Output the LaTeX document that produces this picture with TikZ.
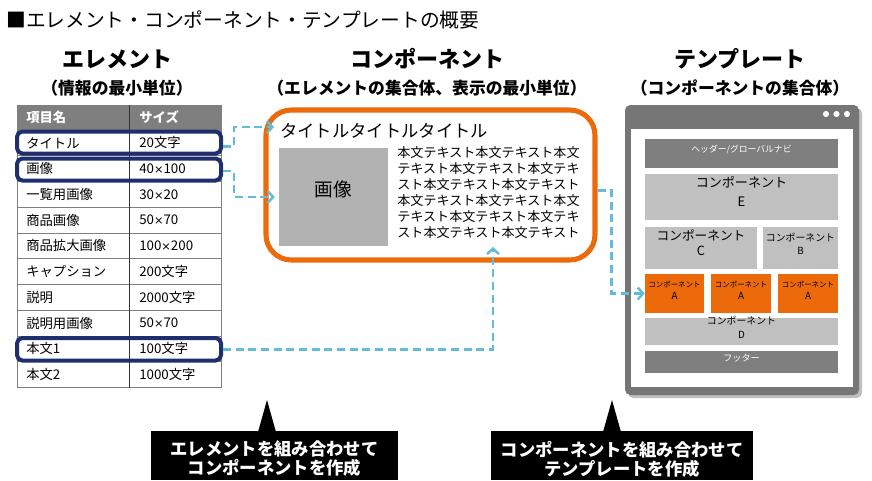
\documentclass[tikz,border=0pt]{standalone}
\usepackage{fontspec}
\setmainfont{Noto Sans CJK JP}
\newfontfamily\symfont{DejaVu Sans}
\newcommand\tms{{\symfont\fontsize{8.5}{10}\selectfont ×}}
\usetikzlibrary{arrows.meta,positioning,fit}

\definecolor{hlnavy}{HTML}{1F2F6E}
\definecolor{orng}{HTML}{EC6A0A}
\definecolor{flowblue}{HTML}{62BCDA}
\definecolor{wingray}{HTML}{767676}
\definecolor{hdgray}{HTML}{7F7F7F}
\definecolor{imggray}{HTML}{B2B2B2}
\definecolor{blkgray}{HTML}{C0C0C0}

\tikzset{
  head/.style={font=\bfseries\fontsize{16.5}{18}\selectfont},
  subhead/.style={font=\bfseries\fontsize{12.6}{14}\selectfont},
  cell/.style={anchor=west, inner sep=0pt, font=\fontsize{10}{12}\selectfont},
  cellhd/.style={cell, text=white, font=\bfseries\fontsize{10}{12}\selectfont},
  tline/.style={draw=hdgray, line width=0.6pt},
  hlbox/.style={draw=hlnavy, line width=3pt, rounded corners=4pt, inner sep=0pt},
  compbox/.style={draw=orng, line width=3.8pt, rounded corners=19pt, inner sep=0pt},
  imgbox/.style={fill=imggray, inner sep=0pt, font=\fontsize{14}{16}\selectfont},
  blk/.style={fill=blkgray, inner sep=0pt, align=center},
  blkdark/.style={fill=hdgray, inner sep=0pt, text=white},
  blkorng/.style={fill=orng, inner sep=0pt, align=center, font=\fontsize{5.6}{8.5}\selectfont},
  callout/.style={inner sep=0pt, text=white, align=center,
    font=\bfseries\fontsize{13}{14.3}\selectfont},
  flow/.style={draw=flowblue, line width=1.9pt, dash pattern=on 6pt off 3.5pt,
    -{Straight Barb[length=4pt,width=9pt]}}
}

\begin{document}
\begin{tikzpicture}[x=0.75pt,y=-0.75pt]
\useasboundingbox (0,0) rectangle (872,480);

% headings
\node[anchor=west, inner sep=0pt, font=\fontsize{14.8}{16}\selectfont] (title) at (6,20) {■エレメント・コンポーネント・テンプレートの概要};
\node[head] (h1) at (117,59) {エレメント};
\node[subhead] (s1) at (117,88) {（情報の最小単位）};
\node[head] (h2) at (427,59) {コンポーネント};
\node[subhead] (s2) at (427,88) {（エレメントの集合体、表示の最小単位）};
\node[head] (h3) at (740,59) {テンプレート};
\node[subhead] (s3) at (740,88) {（コンポーネントの集合体）};

% element table
\fill[hdgray] (17,105) rectangle (221,130);
\draw[tline] (17,105) -- (17,387.5) (221,105) -- (221,387.5);
\draw[tline] (17,130) -- (221,130) (17,155.75) -- (221,155.75)
  (17,181.5) -- (221,181.5) (17,207.25) -- (221,207.25)
  (17,233) -- (221,233) (17,258.75) -- (221,258.75)
  (17,284.5) -- (221,284.5) (17,310.25) -- (221,310.25)
  (17,336) -- (221,336) (17,361.75) -- (221,361.75)
  (17,387.5) -- (221,387.5);
\draw[black!80, line width=0.6pt] (129.5,105) -- (129.5,387.5);

\node[cellhd] (k0) at (26,117.5) {項目名};
\node[cellhd] (v0) at (139,117.5) {サイズ};
\node[cell] (k1) at (26,142.9) {タイトル};
\node[cell] (v1) at (139,142.9) {20文字};
\node[cell] (k2) at (26,168.6) {画像};
\node[cell] (v2) at (139,168.6) {40\tms100};
\node[cell] (k3) at (26,194.4) {一覧用画像};
\node[cell] (v3) at (139,194.4) {30\tms20};
\node[cell] (k4) at (26,220.1) {商品画像};
\node[cell] (v4) at (139,220.1) {50\tms70};
\node[cell] (k5) at (26,245.9) {商品拡大画像};
\node[cell] (v5) at (139,245.9) {100\tms200};
\node[cell] (k6) at (26,271.6) {キャプション};
\node[cell] (v6) at (139,271.6) {200文字};
\node[cell] (k7) at (26,297.4) {説明};
\node[cell] (v7) at (139,297.4) {2000文字};
\node[cell] (k8) at (26,323.1) {説明用画像};
\node[cell] (v8) at (139,323.1) {50\tms70};
\node[cell] (k9) at (26,348.9) {本文1};
\node[cell] (v9) at (139,348.9) {100文字};
\node[cell] (k10) at (26,374.6) {本文2};
\node[cell] (v10) at (139,374.6) {1000文字};

\node[hlbox, fit={(17,131.5) (221,153.5)}] (hl1) {};
\node[hlbox, fit={(17,158.5) (221,180.5)}] (hl2) {};
\node[hlbox, fit={(17,338) (221,360.5)}] (hl3) {};

% component
\node[compbox, fit={(266,110) (595,260)}] (comp) {};
\node[anchor=west, inner sep=0pt, font=\fontsize{13}{15}\selectfont] (ttl) at (280,131) {タイトルタイトルタイトル};
\node[imgbox, fit={(279,148) (388,246)}] (img) {画像};
\node[align=left, inner sep=0pt, font=\fontsize{9.8}{12}\selectfont] (txt) at (488.5,193) {本文テキスト本文テキスト本文\\テキスト本文テキスト本文テキ\\スト本文テキスト本文テキスト\\本文テキスト本文テキスト本文\\テキスト本文テキスト本文テキ\\スト本文テキスト本文テキスト};
\coordinate (t1) at (274,127);
\coordinate (t3) at (493,247);

% template
\fill[black!25, rounded corners=4pt] (628,108) rectangle (862,398);
\fill[wingray, rounded corners=4pt] (625,105) rectangle (859,395);
\fill[white] (631,129) rectangle (853,387);
\fill[white] (826,114) circle (2.3pt) (836.5,114) circle (2.3pt) (847,114) circle (2.3pt);

\node[blkdark, fit={(645,139) (838,168)}, font=\fontsize{6.6}{8}\selectfont] (hdr) {ヘッダー/グローバルナビ};
\node[blk, fit={(645,174) (838,220)}, font=\fontsize{9.8}{14.5}\selectfont] (cE) {コンポーネント\\E};
\node[blk, fit={(645,227) (757,269)}, font=\fontsize{9.5}{11.5}\selectfont] (cC) {コンポーネント\\C};
\node[blk, fit={(763,227) (838,269)}, font=\fontsize{7.4}{10}\selectfont] (cB) {コンポーネント\\B};
\node[blkorng, fit={(645,274) (704,313)}] (a1) {コンポーネント\\{\fontsize{7.4}{8}\selectfont A}};
\node[blkorng, fit={(711,274) (771,313)}] (a2) {コンポーネント\\{\fontsize{7.4}{8}\selectfont A}};
\node[blkorng, fit={(778,274) (838,313)}] (a3) {コンポーネント\\{\fontsize{7.4}{8}\selectfont A}};
\node[blk, fit={(645,318) (838,345)}, font=\fontsize{7.4}{10.5}\selectfont] (cD) {コンポーネント\\D};
\node[blkdark, fit={(645,351) (838,373)}, font=\fontsize{6.8}{8}\selectfont] (ftr) {フッター};

% flows
\draw[flow] ([yshift=-3pt]hl1.east) -- ++(11,0) |- (t1);
\draw[flow, shorten >=3pt] ([yshift=-1pt]hl2.east) -- ++(11,0) |- (img.west);
\draw[flow] (hl3.east) -| (t3);
\draw[flow] ([yshift=-4pt]comp.east) -- ++(14,0) |- (a1.west);

% callouts
\fill[black] (267,400) -- (276,432) -- (258,432) -- cycle;
\fill[black] (151,431) rectangle (398,480);
\node[callout] (cb1) at (274.5,459) {エレメントを組み合わせて\\コンポーネントを作成};
\fill[black] (612,400) -- (621,432) -- (603,432) -- cycle;
\fill[black] (491,431) rectangle (753,480);
\node[callout] (cb2) at (622,459) {コンポーネントを組み合わせて\\テンプレートを作成};
\end{tikzpicture}
\end{document}
